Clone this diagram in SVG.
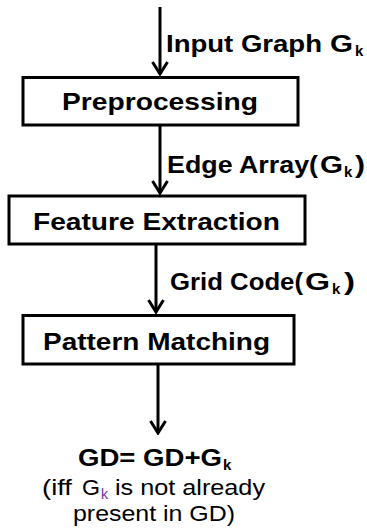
<svg xmlns="http://www.w3.org/2000/svg" width="367" height="530" viewBox="0 0 367 530">
<style>
.box{fill:#fff;stroke:#000;stroke-width:3}
.b{font-family:"Liberation Sans",Arial,sans-serif;font-weight:bold;font-size:24px;fill:#000}
.n{font-family:"Liberation Sans",Arial,sans-serif;font-size:22px;fill:#000}
.sub{font-size:15px}
.con{stroke:#000;stroke-width:3;fill:none}
</style>
<defs>
<marker id="ah" markerUnits="userSpaceOnUse" viewBox="0 0 15 18" refX="13" refY="9" markerWidth="15" markerHeight="18" orient="auto">
<path d="M1,1.5 L13,9 L1,16.5" fill="none" stroke="#000" stroke-width="3"/>
</marker>
</defs>
<rect width="367" height="530" fill="#fff"/>
<g id="connectors">
<line class="con" x1="160" y1="7" x2="160" y2="74" marker-end="url(#ah)"/>
<line class="con" x1="160" y1="125" x2="160" y2="193" marker-end="url(#ah)"/>
<line class="con" x1="156" y1="245" x2="156" y2="312" marker-end="url(#ah)"/>
<line class="con" x1="158" y1="365" x2="158" y2="433" marker-end="url(#ah)"/>
<text class="b" x="166" y="52" textLength="156" lengthAdjust="spacingAndGlyphs">Input Graph</text>
<text class="b" x="330" y="52" textLength="23" lengthAdjust="spacingAndGlyphs">G</text>
<text class="b sub" x="355" y="56">k</text>
<text class="b" x="167" y="173" textLength="151" lengthAdjust="spacingAndGlyphs">Edge Array(</text>
<text class="b" x="320" y="173" textLength="23" lengthAdjust="spacingAndGlyphs">G</text>
<text class="b sub" x="344" y="177">k</text>
<text class="b" x="355" y="173" textLength="10" lengthAdjust="spacingAndGlyphs">)</text>
<text class="b" x="170" y="290" textLength="133" lengthAdjust="spacingAndGlyphs">Grid Code(</text>
<text class="b" x="305" y="290" textLength="25" lengthAdjust="spacingAndGlyphs">G</text>
<text class="b sub" x="332" y="294">k</text>
<text class="b" x="344" y="290" textLength="11" lengthAdjust="spacingAndGlyphs">)</text>
</g>
<g id="preprocessing">
<rect class="box" x="23" y="77.5" width="275" height="47.5"/>
<text class="b" x="62" y="110" textLength="196" lengthAdjust="spacingAndGlyphs">Preprocessing</text>
</g>
<g id="feature-extraction">
<rect class="box" x="9" y="196" width="296" height="48"/>
<text class="b" x="33" y="230" textLength="247" lengthAdjust="spacingAndGlyphs">Feature Extraction</text>
</g>
<g id="pattern-matching">
<rect class="box" x="23" y="315.5" width="271" height="48.5"/>
<text class="b" x="43" y="350" textLength="227" lengthAdjust="spacingAndGlyphs">Pattern Matching</text>
</g>
<g id="result">
<text class="b" x="78" y="466" textLength="144" lengthAdjust="spacingAndGlyphs">GD= GD+G</text>
<text class="b sub" x="223" y="470">k</text>
<text class="n" x="42" y="495" textLength="30" lengthAdjust="spacingAndGlyphs">(iff</text>
<text class="n" x="82" y="495" textLength="18" lengthAdjust="spacingAndGlyphs">G</text>
<text class="n" x="101" y="499" style="fill:#7030a0;font-size:14px">k</text>
<text class="n" x="115" y="495" textLength="150" lengthAdjust="spacingAndGlyphs">is not already</text>
<text class="n" x="73" y="521" textLength="162" lengthAdjust="spacingAndGlyphs">present in GD)</text>
</g>
</svg>
